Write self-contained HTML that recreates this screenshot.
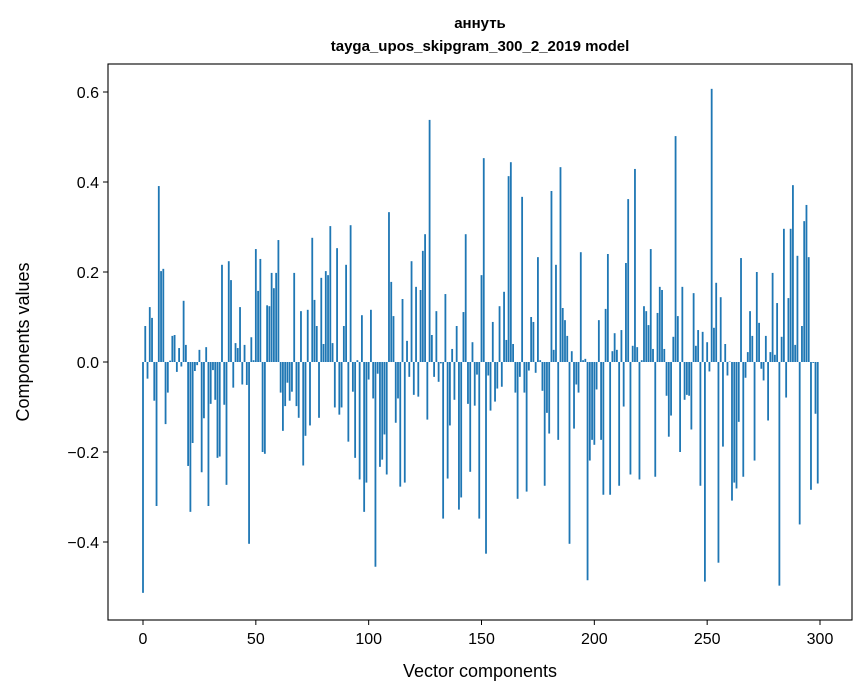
<!DOCTYPE html>
<html><head><meta charset="utf-8">
<style>
html,body{margin:0;padding:0;background:#fff;}
svg{display:block;font-family:"Liberation Sans","DejaVu Sans",sans-serif;}
</style></head>
<body>
<svg id="chart" width="867" height="696" viewBox="0 0 867 696" xmlns="http://www.w3.org/2000/svg">
<rect x="0" y="0" width="867" height="696" fill="#fff"/>
<text x="480" y="28" text-anchor="middle" font-size="15" font-weight="bold">аннуть</text>
<text x="480" y="51" text-anchor="middle" font-size="15" font-weight="bold">tayga_upos_skipgram_300_2_2019 model</text>
<g id="bars"></g>
<g id="axes"></g>
<text x="480" y="677" text-anchor="middle" font-size="18">Vector components</text>
<text transform="translate(29,342) rotate(-90)" text-anchor="middle" font-size="18">Components values</text>
</svg>
<script>
const values = [-0.513,0.08,-0.037,0.122,0.098,-0.086,-0.32,0.391,0.202,0.207,
-0.138,-0.068,0.003,0.058,0.06,-0.022,0.031,-0.01,0.136,0.038,
-0.231,-0.333,-0.18,-0.02,-0.007,0.027,-0.245,-0.125,0.033,-0.32,
-0.093,-0.018,-0.084,-0.213,-0.21,0.216,-0.095,-0.273,0.224,0.182,
-0.057,0.042,0.031,0.122,-0.05,0.038,-0.051,-0.404,0.055,0.004,
0.251,0.158,0.229,-0.2,-0.204,0.126,0.124,0.198,0.164,0.198,
0.271,-0.068,-0.153,-0.098,-0.046,-0.086,-0.066,0.198,-0.098,-0.124,
0.113,-0.23,-0.164,0.116,-0.141,0.276,0.138,0.08,-0.124,0.187,
0.04,0.202,0.193,0.302,0.042,-0.101,0.253,-0.117,-0.101,0.08,
0.216,-0.177,0.304,-0.066,-0.213,0.004,-0.261,0.104,-0.333,-0.268,
-0.039,0.116,-0.081,-0.455,-0.026,-0.233,-0.217,-0.161,-0.25,0.333,
0.178,0.102,-0.135,-0.081,-0.277,0.14,-0.268,0.047,-0.033,0.224,
-0.073,0.167,-0.077,0.16,0.247,0.284,-0.128,0.538,0.06,-0.033,
0.113,-0.044,-0.003,-0.348,0.151,-0.259,-0.141,0.029,-0.084,0.08,
-0.328,-0.301,0.111,0.284,-0.093,-0.244,0.044,-0.097,-0.028,-0.348,
0.193,0.453,-0.426,-0.03,-0.108,0.089,-0.088,-0.059,0.124,-0.055,
0.156,0.049,0.413,0.444,0.04,-0.068,-0.304,-0.033,0.367,-0.068,
-0.288,-0.019,0.1,0.089,-0.024,0.233,0.004,-0.064,-0.275,-0.113,
-0.159,0.38,0.027,0.216,-0.173,0.433,0.12,0.093,0.058,-0.404,
0.024,-0.148,-0.05,-0.068,0.244,0.004,0.007,-0.485,-0.219,-0.173,
-0.184,-0.061,0.093,-0.173,-0.295,0.118,0.24,-0.295,0.024,0.064,
0.027,-0.275,0.071,-0.099,0.22,0.362,-0.25,0.036,0.429,0.033,
-0.261,0.004,0.124,0.113,0.082,0.251,0.029,-0.255,0.109,0.167,
0.16,0.029,-0.075,-0.166,-0.119,0.056,0.502,0.102,-0.2,0.167,
-0.084,-0.073,-0.075,-0.15,0.153,0.036,0.071,-0.275,0.067,-0.488,
0.044,-0.021,0.607,0.076,0.176,-0.446,0.144,-0.188,0.04,-0.03,
0.001,-0.308,-0.268,-0.281,-0.133,0.231,-0.255,-0.035,0.022,0.113,
0.058,-0.219,0.2,0.087,-0.015,-0.041,0.058,-0.13,0.022,0.198,
0.016,0.131,-0.497,0.056,0.296,-0.079,0.142,0.296,0.393,0.038,
0.236,-0.361,0.08,0.313,0.349,0.233,-0.284,-0.002,-0.115,-0.27];
const xTicks = [0,50,100,150,200,250,300];
const yTicks = [-0.4,-0.2,0.0,0.2,0.4,0.6];
const yTickLabels = ["−0.4","−0.2","0.0","0.2","0.4","0.6"];

const NS = "http://www.w3.org/2000/svg";
const L=108,R=852,T=64,B=620;
function xs(v){return 143 + v*(820-143)/300;}
function ys(v){return 362 - v*450;}
const bars=document.getElementById('bars');
values.forEach((v,i)=>{
  const r=document.createElementNS(NS,'rect');
  const w=0.8*(820-143)/300;
  r.setAttribute('x',xs(i)-w/2);
  r.setAttribute('y',Math.min(ys(v),ys(0)));
  r.setAttribute('width',w);
  r.setAttribute('height',Math.abs(ys(v)-ys(0)));
  r.setAttribute('fill','#1f77b4');
  
  
  bars.appendChild(r);
});
const axes=document.getElementById('axes');
const frame=document.createElementNS(NS,'rect');
frame.setAttribute('x',L);frame.setAttribute('y',T);
frame.setAttribute('width',R-L);frame.setAttribute('height',B-T);
frame.setAttribute('fill','none');frame.setAttribute('stroke','#000');frame.setAttribute('stroke-width','1.1');


axes.appendChild(frame);
xTicks.forEach(t=>{
  const l=document.createElementNS(NS,'line');
  l.setAttribute('x1',xs(t));l.setAttribute('x2',xs(t));l.setAttribute('y1',B);l.setAttribute('y2',B+5);
  l.setAttribute('stroke','#000');
  
  
  axes.appendChild(l);
  const tx=document.createElementNS(NS,'text');
  tx.setAttribute('x',xs(t));tx.setAttribute('y',B+24);tx.setAttribute('text-anchor','middle');tx.setAttribute('font-size','16');
  tx.textContent=t;
  
  
  axes.appendChild(tx);
});
yTicks.forEach((t,k)=>{
  const l=document.createElementNS(NS,'line');
  l.setAttribute('x1',L-5);l.setAttribute('x2',L);l.setAttribute('y1',ys(t));l.setAttribute('y2',ys(t));
  l.setAttribute('stroke','#000');
  
  
  axes.appendChild(l);
  const tx=document.createElementNS(NS,'text');
  tx.setAttribute('x',L-9);tx.setAttribute('y',ys(t)+6);tx.setAttribute('text-anchor','end');tx.setAttribute('font-size','16');
  tx.textContent=yTickLabels[k];
  
  
  axes.appendChild(tx);
});
</script>
</body></html>
